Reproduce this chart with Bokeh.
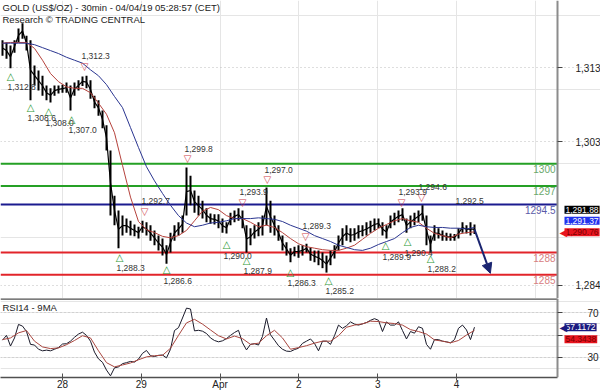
import numpy as np
from bokeh.plotting import figure
from bokeh.layouts import column
from bokeh.models import (Range1d, FixedTicker, Label, Arrow, NormalHead, ColumnDataSource,
                          LinearAxis, Grid)
from bokeh.core.properties import value
from bokeh.embed import file_html
from bokeh.resources import INLINE

FONT = "Liberation Sans"

# ---------------- data ----------------
# time axis in trading days: 28 Mar = 1, 29 Mar = 2, 1 Apr = 3, 2 Apr = 4, 3 Apr = 5, 4 Apr = 6
t_first = 0.2386
t_step = 0.05076          # one sample about every 73 minutes

price_high = [
    1316.7, 1316.4, 1316.0, 1316.7, 1318.3, 1319.0, 1317.3, 1316.7, 1313.3, 1312.6,
    1311.9, 1310.6, 1310.2, 1310.6, 1310.6, 1310.7, 1311.0, 1310.6, 1311.0, 1311.3,
    1311.8, 1311.9, 1311.3, 1309.2, 1308.6, 1307.2, 1305.2, 1301.8, 1295.7, 1293.7,
    1293.0, 1292.6, 1292.3, 1291.8, 1291.5, 1292.3, 1292.1, 1291.7, 1291.0, 1290.3,
    1289.9, 1289.0, 1290.7, 1291.7, 1292.1, 1293.0, 1299.5, 1298.4, 1296.4, 1295.7,
    1295.0, 1294.0, 1293.3, 1293.2, 1293.2, 1292.6, 1292.1, 1293.4, 1293.7, 1294.0,
    1293.7, 1291.7, 1291.3, 1291.7, 1292.1, 1293.0, 1296.8, 1295.0, 1293.0, 1291.7,
    1290.3, 1289.4, 1288.6, 1288.8, 1289.0, 1289.0, 1289.2, 1288.7, 1288.3, 1288.3,
    1288.0, 1287.6, 1288.3, 1289.0, 1290.3, 1291.3, 1291.7, 1291.3, 1291.3, 1291.7,
    1291.7, 1292.1, 1292.3, 1292.6, 1292.6, 1292.1, 1291.7, 1293.0, 1293.4, 1293.7,
    1294.0, 1292.6, 1293.0, 1293.4, 1293.7, 1294.4, 1293.0, 1290.3, 1291.7, 1291.3,
    1291.0, 1290.7, 1290.6, 1290.5, 1291.3, 1292.1, 1291.7, 1292.1, 1291.8]
price_low = [
    1314.6, 1314.2, 1312.9, 1315.0, 1316.4, 1316.9, 1315.3, 1308.6, 1310.6, 1309.9,
    1309.2, 1308.6, 1308.3, 1309.2, 1309.5, 1309.6, 1309.6, 1307.2, 1309.2, 1309.9,
    1310.5, 1310.2, 1308.8, 1307.5, 1306.5, 1304.8, 1301.8, 1293.0, 1291.7, 1288.6,
    1290.3, 1290.7, 1290.3, 1290.2, 1289.9, 1290.7, 1290.3, 1289.6, 1289.0, 1288.3,
    1287.6, 1286.5, 1288.0, 1289.6, 1290.3, 1290.7, 1293.0, 1294.4, 1293.4, 1293.0,
    1292.6, 1292.1, 1291.9, 1291.8, 1291.3, 1290.7, 1290.6, 1291.7, 1292.1, 1292.3,
    1291.3, 1288.0, 1289.0, 1289.9, 1290.2, 1290.3, 1291.7, 1290.7, 1290.3, 1289.6,
    1288.3, 1287.6, 1286.7, 1287.5, 1287.3, 1287.6, 1288.0, 1286.9, 1286.7, 1286.3,
    1285.9, 1285.3, 1286.3, 1287.2, 1288.3, 1289.0, 1289.6, 1289.4, 1289.6, 1289.9,
    1290.2, 1290.3, 1290.7, 1291.0, 1291.3, 1290.3, 1289.9, 1291.3, 1291.7, 1292.1,
    1292.3, 1290.7, 1291.3, 1291.7, 1292.1, 1292.3, 1289.0, 1288.0, 1289.6, 1289.9,
    1289.6, 1289.6, 1289.6, 1289.6, 1289.9, 1290.7, 1290.6, 1290.3, 1290.5]

# moving averages, one value every second sample
ma_red = [
    1316.3, 1316.4, 1316.4, 1316.4, 1315.6, 1314.0, 1312.2, 1311.1, 1310.4, 1310.2,
    1310.2, 1309.6, 1308.2, 1306.7, 1304.2, 1299.8, 1295.5, 1292.2, 1291.1, 1290.7,
    1290.2, 1290.0, 1290.3, 1291.0, 1292.3, 1293.6, 1294.1, 1293.8, 1293.0, 1292.6,
    1292.6, 1292.1, 1291.5, 1291.7, 1291.4, 1290.7, 1289.9, 1289.2, 1288.8, 1288.6,
    1288.4, 1288.3, 1288.3, 1288.6, 1289.0, 1289.8, 1290.6, 1291.3, 1291.8, 1292.3,
    1292.6, 1292.3, 1292.1, 1291.3, 1290.6, 1290.3, 1290.0, 1290.5, 1290.7, 1290.8]
ma_blue = [
    1316.3, 1316.3, 1316.3, 1316.3, 1316.1, 1315.7, 1315.3, 1314.9, 1314.4, 1314.0,
    1313.6, 1312.7, 1311.9, 1310.7, 1309.1, 1307.6, 1304.9, 1302.2, 1299.6, 1297.7,
    1296.0, 1294.4, 1293.0, 1292.0, 1291.5, 1291.7, 1292.0, 1292.1, 1292.3, 1292.6,
    1292.6, 1292.6, 1292.7, 1292.6, 1292.5, 1292.2, 1291.7, 1291.3, 1290.9, 1290.3,
    1289.9, 1289.5, 1289.0, 1288.7, 1288.4, 1288.3, 1288.6, 1289.1, 1289.5, 1289.9,
    1290.7, 1291.4, 1291.7, 1291.5, 1291.4, 1291.4, 1291.3, 1291.3, 1291.2, 1291.4]

rsi14 = [
    45.4, 49.7, 40.1, 47.4, 59.6, 58.1, 53.2, 41.6, 41.0, 37.2,
    35.8, 36.4, 35.8, 37.2, 38.7, 41.9, 42.2, 44.5, 48.0, 50.9,
    52.6, 49.7, 44.5, 34.6, 28.5, 25.4, 18.4, 13.2, 20.4, 21.3,
    24.2, 25.1, 26.2, 25.6, 28.3, 33.5, 36.1, 31.4, 30.6, 31.7,
    32.0, 29.4, 37.2, 54.1, 56.7, 65.4, 74.3, 73.5, 53.8, 54.3,
    53.5, 51.4, 47.4, 45.1, 43.9, 44.8, 46.8, 49.7, 52.3, 54.3,
    43.0, 36.6, 41.6, 42.2, 41.0, 48.8, 65.4, 50.3, 45.4, 40.4,
    37.2, 35.5, 35.2, 36.9, 38.1, 42.5, 44.5, 46.5, 42.5, 35.8,
    44.5, 44.5, 41.6, 49.4, 59.0, 56.1, 58.4, 61.9, 59.9, 59.0,
    60.1, 61.3, 63.3, 64.8, 63.3, 53.2, 61.9, 59.0, 59.0, 61.9,
    54.1, 46.5, 53.2, 51.7, 57.5, 56.1, 41.6, 37.2, 45.9, 45.9,
    44.5, 43.9, 43.0, 45.9, 56.1, 59.0, 54.6, 45.9, 57.1]
rsi_ma9 = [
    45.9, 47.4, 52.0, 54.1, 44.5, 39.3, 37.8, 38.4, 41.3, 45.1,
    49.4, 47.4, 35.8, 25.1, 21.3, 23.0, 24.8, 27.7, 30.3, 31.4,
    31.7, 38.1, 49.7, 61.0, 64.2, 59.9, 54.6, 49.4, 46.5, 49.1,
    46.8, 41.6, 42.7, 49.4, 54.3, 47.4, 37.2, 38.7, 40.4, 42.7,
    44.5, 44.5, 49.4, 57.0, 59.0, 60.1, 62.5, 62.2, 61.0, 60.4,
    59.0, 54.9, 53.2, 50.9, 45.6, 44.5, 43.0, 45.1, 50.0, 54.3]

# pivots
low_t = [0.340, 0.594, 0.822, 1.114, 1.723, 2.320, 3.081, 3.335, 3.893, 4.376, 5.099, 5.378, 5.670]
low_v = [1312.8, 1308.6, 1308.0, 1307.0, 1288.3, 1286.6, 1290.0, 1287.9, 1286.3, 1285.2, 1289.9, 1290.4, 1288.2]
high_t = [1.279, 2.041, 2.586, 3.284, 3.601, 4.084, 5.302, 5.556]
high_v = [1312.3, 1292.7, 1299.8, 1293.9, 1297.0, 1289.3, 1293.9, 1294.6]
note_t = [6.025]
note_v = [1292.5]

# key levels
levels = [1300, 1297, 1294.5, 1288, 1285]
level_labels = ["1300", "1297", "1294.5", "1288", "1285"]

# axis ticks
day_ticks = [1, 2, 3, 4, 5, 6]
day_labels = ["28", "29", "Apr", "2", "3", "4"]
price_ticks = [1313, 1303, 1283.6]
price_tick_labels = ["1,313", "1,303", "1,284"]
rsi_ticks = [30, 50, 70]
rsi_tick_labels = ["30", "", "70"]

# last values (tags) and projected target
last_close = 1291.88
last_blue = 1291.37
last_red = 1290.76
last_rsi = 57.1172
last_rsi_ma = 54.3438
target_t = 6.43
target_p = 1285.2

# ---------------- styles ----------------
level_line_colors = ["#25a025", "#25a025", "#1b1b8f", "#e2242a", "#e2242a"]
level_text_colors = ["#6aa86a", "#6aa86a", "#5a5aa8", "#d88080", "#d88080"]
AXIS_GRAY = "#8c8c8c"
NAVY = "#1a2470"

x_start, x_end = 0.2132, 7.8274      # whole canvas width
axis_x = 7.2817                      # where the price axis sits

t = t_first + t_step * np.arange(len(price_high))
t_ma = t_first + 2 * t_step * np.arange(len(ma_red))
t_rsi = t_first + t_step * np.arange(len(rsi14))
t_rsi_ma = t_first + 2 * t_step * np.arange(len(rsi_ma9))
hi = np.array(price_high)
lo = np.array(price_low)
mid = (hi + lo) / 2


def style_axis(ax, standoff):
    ax.axis_line_color = AXIS_GRAY
    ax.axis_line_width = 2
    ax.major_tick_line_color = "#444444"
    ax.major_tick_in = 0
    ax.major_tick_out = 5
    ax.minor_tick_line_color = None
    ax.major_label_standoff = standoff
    ax.major_label_text_font = FONT
    ax.major_label_text_font_size = "10px"
    ax.major_label_text_color = "#222222"


def tag(fig, yv, txt, bg, fg, dy, tip=False):
    fig.add_layout(Label(x=axis_x, y=yv, text=txt, x_offset=7, y_offset=dy,
                         text_baseline="middle", text_align="left", text_font=FONT,
                         text_font_size="8.5px", text_color=fg,
                         background_fill_color=bg, padding=1))
    if tip:
        fig.add_layout(Label(x=axis_x, y=yv, text="\u25C0", x_offset=2, y_offset=dy,
                             text_baseline="middle", text_align="left",
                             text_font="DejaVu Sans", text_font_size="10px", text_color=bg))


# ---------------- main panel ----------------
p = figure(width=600, height=298, x_range=Range1d(x_start, x_end),
           y_range=Range1d(1281.8, 1322.07), output_backend="svg",
           toolbar_location=None, y_axis_location=None, x_axis_location=None,
           min_border_left=0, min_border_right=0, min_border_top=0, min_border_bottom=0)
p.outline_line_color = None
p.background_fill_color = "white"
p.border_fill_color = "white"

ya = LinearAxis(fixed_location=axis_x, ticker=FixedTicker(ticks=price_ticks))
ya.major_label_overrides = dict(zip(price_ticks, price_tick_labels))
style_axis(ya, 13)
p.add_layout(ya, "right")
p.add_layout(Grid(dimension=1, ticker=ya.ticker, bounds=(x_start, axis_x),
                  grid_line_color="#bdbdbd", grid_line_dash="1 3"))

p.segment([x_start] * len(levels), levels, [axis_x] * len(levels), levels,
          line_color=level_line_colors, line_width=2)
for lv, lt, tc in zip(levels, level_labels, level_text_colors):
    p.add_layout(Label(x=axis_x, y=lv, text=lt, text_align="right", text_baseline="top",
                       x_offset=-2, y_offset=-1, text_font=FONT, text_font_size="10px",
                       text_color=tc))

src = ColumnDataSource(dict(t=t, hi=hi, lo=lo, mid=mid))
p.segment("t", "lo", "t", "hi", source=src, line_color="black", line_width=2)
p.line("t", "mid", source=src, line_color="black", line_width=1.2)
p.line(t_ma, ma_red, line_color="#b5423c", line_width=1)
p.line(t_ma, ma_blue, line_color="#2a3590", line_width=1)

# pivot markers
p.text(low_t, low_v, text=["\u25B3"] * len(low_t), text_font=value("DejaVu Sans"),
       text_font_size="10px", text_color="#2f9a3a", text_align="center",
       text_baseline="middle", y_offset=7)
p.text(low_t, low_v, text=[f"{v:,.1f}" for v in low_v], text_font=value(FONT),
       text_font_size="8.5px", text_color="#333333", text_align="left",
       text_baseline="middle", x_offset=-3, y_offset=18)
p.text(high_t, high_v, text=["\u25BD"] * len(high_t), text_font=value("DejaVu Sans"),
       text_font_size="10px", text_color="#d0404a", text_align="center",
       text_baseline="middle", y_offset=-6.5)
p.text(high_t, high_v, text=[f"{v:,.1f}" for v in high_v], text_font=value(FONT),
       text_font_size="8.5px", text_color="#333333", text_align="left",
       text_baseline="middle", x_offset=-3, y_offset=-16.5)
p.text(note_t, note_v, text=[f"{v:,.1f}" for v in note_v], text_font=value(FONT),
       text_font_size="8.5px", text_color="#333333", text_align="left",
       text_baseline="middle", x_offset=-3, y_offset=-18)

# projection arrow
p.add_layout(Arrow(end=NormalHead(size=10, fill_color=NAVY, line_color=NAVY),
                   x_start=t[-1], y_start=mid[-1], x_end=target_t, y_end=target_p,
                   line_color=NAVY, line_width=2))

# title
p.add_layout(Label(x=x_start, y=1322.07, text="GOLD (US$/OZ) - 30min - 04/04/19 05:28:57 (CET)",
                   x_offset=2, y_offset=-1, text_baseline="top", text_font=FONT,
                   text_font_size="9.5px", text_color="#222222"))
p.add_layout(Label(x=x_start, y=1322.07, text="Research \u00A9 TRADING CENTRAL",
                   x_offset=2, y_offset=-13, text_baseline="top", text_font=FONT,
                   text_font_size="9.5px", text_color="#222222"))

tag(p, last_red, f"{last_red:,.2f}", "#e8141e", "#7a0000", 0, tip=True)
tag(p, last_red, f"{last_blue:,.2f}", "#2233ee", "white", 11.5)
tag(p, last_red, f"{last_close:,.2f}", "#000000", "white", 22.5)

# ---------------- RSI panel ----------------
r = figure(width=600, height=94, x_range=p.x_range, y_range=Range1d(11.7, 83.0),
           output_backend="svg", toolbar_location=None, y_axis_location=None,
           min_border_left=0, min_border_right=0, min_border_top=0, min_border_bottom=0)
r.outline_line_color = None
r.xgrid.visible = False

ry = LinearAxis(fixed_location=axis_x, ticker=FixedTicker(ticks=rsi_ticks))
ry.major_label_overrides = dict(zip(rsi_ticks, rsi_tick_labels))
style_axis(ry, 25)
r.add_layout(ry, "right")
r.add_layout(Grid(dimension=1, ticker=ry.ticker, bounds=(x_start, axis_x),
                  grid_line_color="#bdbdbd", grid_line_dash="1 3"))

rx = r.xaxis[0]
rx.ticker = FixedTicker(ticks=day_ticks)
rx.major_label_overrides = dict(zip(day_ticks, day_labels))
rx.bounds = (x_start, axis_x)
rx.axis_line_color = "#505050"
rx.axis_line_width = 1.5
rx.major_tick_line_color = "#505050"
rx.major_tick_in = 4
rx.major_tick_out = 3
rx.minor_tick_line_color = None
rx.major_label_standoff = -2
rx.major_label_text_align = "left"
rx.major_label_text_font = FONT
rx.major_label_text_font_size = "10px"
rx.major_label_text_color = "#222222"

r.segment([x_start], [83.0], [axis_x], [83.0], line_color="#505050", line_width=2.5)
r.line(t_rsi, rsi14, line_color="#1a1a2a", line_width=1)
r.line(t_rsi_ma, rsi_ma9, line_color="#a8463f", line_width=1)
r.add_layout(Label(x=x_start, y=83.0, text="RSI14 - 9MA", x_offset=2, y_offset=-3,
                   text_baseline="top", text_font=FONT, text_font_size="9.5px",
                   text_color="#222222"))
tag(r, last_rsi, f"{last_rsi:.4f}", "#1a1a80", "white", 0, tip=True)
tag(r, last_rsi, f"{last_rsi_ma:.4f}", "#e8141e", "#7a0000", -12)

layout = column(p, r, spacing=0)
open("out.html", "w").write(file_html(layout, INLINE))
